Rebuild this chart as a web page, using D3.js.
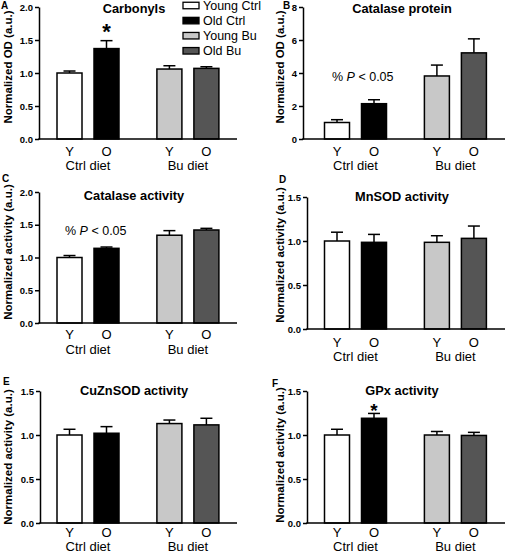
<!DOCTYPE html>
<html><head><meta charset="utf-8">
<script src="https://cdn.jsdelivr.net/npm/d3@7"></script>
<style>body{margin:0;background:#fff} svg{display:block}</style>
</head><body><svg id="c" width="506" height="554"></svg>
<script>
// ---------- data ----------
const groups = ["Young Ctrl", "Old Ctrl", "Young Bu", "Old Bu"];
const ageLabels = ["Y", "O", "Y", "O"];
const dietLabels = ["Ctrl diet", "Bu diet"];
const barColors = ["#ffffff", "#000000", "#c8c8c8", "#555555"];

const carbonylsMean = [1.00, 1.37, 1.06, 1.07];
const carbonylsErr  = [0.03, 0.12, 0.05, 0.025];
const catProtMean   = [1.00, 2.14, 3.82, 5.22];
const catProtErr    = [0.17, 0.24, 0.66, 0.85];
const catActMean    = [1.00, 1.14, 1.34, 1.42];
const catActErr     = [0.03, 0.02, 0.07, 0.025];
const mnsodMean     = [1.00, 0.985, 0.985, 1.03];
const mnsodErr      = [0.10, 0.09, 0.075, 0.14];
const cuznsodMean   = [1.00, 1.02, 1.13, 1.115];
const cuznsodErr    = [0.065, 0.075, 0.04, 0.075];
const gpxMean       = [1.00, 1.19, 1.00, 0.995];
const gpxErr        = [0.065, 0.055, 0.04, 0.035];

const ticks2  = [0, 0.5, 1.0, 1.5, 2.0];
const ticks8  = [0, 2, 4, 6, 8];
const ticks15 = [0, 0.5, 1.0, 1.5];

const panelLetters = ["A", "B", "C", "D", "E", "F"];
const panelTitles = ["Carbonyls", "Catalase protein", "Catalase activity", "MnSOD activity", "CuZnSOD activity", "GPx activity"];
const yLabelOD = "Normalized OD (a.u.)";
const yLabelAct = "Normalized activity (a.u.)";

// ---------- panel definitions ----------
const panels = [
  {mean: carbonylsMean, err: carbonylsErr, ticks: ticks2, ylabel: yLabelOD, star: 1},
  {mean: catProtMean, err: catProtErr, ticks: ticks8, ylabel: yLabelOD, sig: true},
  {mean: catActMean, err: catActErr, ticks: ticks2, ylabel: yLabelAct, sig: true},
  {mean: mnsodMean, err: mnsodErr, ticks: ticks15, ylabel: yLabelAct},
  {mean: cuznsodMean, err: cuznsodErr, ticks: ticks15, ylabel: yLabelAct},
  {mean: gpxMean, err: gpxErr, ticks: ticks15, ylabel: yLabelAct, star: 1}
];

// ---------- layout (positions only) ----------
const cols = [
  {start: 69.5, step: 37, axisEnd: 237, titleX: 134, ylabX: 12},
  {start: 337, step: 37, axisEnd: 505, titleX: 402, ylabX: 284}
];
const layout = [
  {col: 0, axisX: 39,  yTop: 7,   yBot: 139, lx: 1,   ly: 9,   titleY: 13,  labelY: 67,  ageDy: 17, dietDy: 31, starY: 39, starSize: 22},
  {col: 1, axisX: 303, yTop: 7,   yBot: 139, lx: 283, ly: 9,   titleY: 13,  labelY: 67,  ageDy: 17, dietDy: 31, sigX: 332, sigY: 81},
  {col: 0, axisX: 39,  yTop: 192, yBot: 323, lx: 2,   ly: 182, titleY: 200, labelY: 252, ageDy: 16, dietDy: 31, sigX: 65,  sigY: 235},
  {col: 1, axisX: 307, yTop: 197, yBot: 329, lx: 279, ly: 183, titleY: 201, labelY: 255, ageDy: 18, dietDy: 32},
  {col: 0, axisX: 40,  yTop: 391, yBot: 523, lx: 3,   ly: 385, titleY: 395, labelY: 457, ageDy: 13.5, dietDy: 28},
  {col: 1, axisX: 307, yTop: 391, yBot: 523, lx: 272, ly: 387, titleY: 395, labelY: 455, ageDy: 13.5, dietDy: 28, starY: 417, starSize: 19}
];
const slots = [0, 1, 2.7, 3.7];
const barW = 25, capW = 12;
const FONT = "'Liberation Sans', Arial, Helvetica, sans-serif";

const svg = d3.select("#c").style("font-family", FONT);

panels.forEach((p, i) => {
  const L = layout[i], C = cols[L.col];
  const g = svg.append("g");
  const yMax = p.ticks[p.ticks.length - 1];
  const y = d3.scaleLinear().domain([0, yMax]).range([L.yBot, L.yTop]);
  const x = d3.scaleLinear().domain([0, 1]).range([C.start, C.start + C.step]);

  const data = p.mean.map((m, k) => ({m, e: p.err[k], k}));
  // error bars (upper only)
  g.selectAll("line.eb").data(data).join("line")
    .attr("x1", d => x(slots[d.k])).attr("x2", d => x(slots[d.k]))
    .attr("y1", d => y(d.m)).attr("y2", d => y(d.m + d.e))
    .attr("stroke", "#000").attr("stroke-width", 1.5);
  g.selectAll("line.cap").data(data).join("line")
    .attr("x1", d => x(slots[d.k]) - capW / 2).attr("x2", d => x(slots[d.k]) + capW / 2)
    .attr("y1", d => y(d.m + d.e)).attr("y2", d => y(d.m + d.e))
    .attr("stroke", "#000").attr("stroke-width", 1.5);
  // bars
  g.selectAll("rect.bar").data(data).join("rect")
    .attr("x", d => x(slots[d.k]) - barW / 2)
    .attr("width", barW)
    .attr("y", d => y(d.m))
    .attr("height", d => y(0) - y(d.m))
    .attr("fill", d => barColors[d.k])
    .attr("stroke", "#000").attr("stroke-width", 1.5);

  // y axis
  const fmt = yMax === 8 ? d3.format("d") : d3.format(".1f");
  const ax = g.append("g").attr("transform", `translate(${L.axisX},0)`)
    .call(d3.axisLeft(y).tickValues(p.ticks).tickFormat(fmt).tickSize(4).tickSizeOuter(0).tickPadding(2));
  ax.selectAll("path,line").attr("stroke", "#000").attr("stroke-width", 1.5);
  ax.selectAll("text").attr("font-family", FONT).attr("font-size", 9.5).attr("font-weight", "bold").attr("fill", "#000");

  // x axis line
  g.append("line").attr("x1", L.axisX - 0.75).attr("x2", C.axisEnd)
    .attr("y1", y(0)).attr("y2", y(0)).attr("stroke", "#000").attr("stroke-width", 1.5);

  // category labels
  g.selectAll("text.age").data(ageLabels).join("text")
    .attr("x", (d, k) => x(slots[k])).attr("y", y(0) + L.ageDy)
    .attr("text-anchor", "middle").attr("font-size", 13).text(d => d);
  g.selectAll("text.diet").data(dietLabels).join("text")
    .attr("x", (d, k) => (x(slots[2 * k]) + x(slots[2 * k + 1])) / 2).attr("y", y(0) + L.dietDy)
    .attr("text-anchor", "middle").attr("font-size", 13).text(d => d);

  // title
  g.append("text").attr("x", C.titleX).attr("y", L.titleY).attr("text-anchor", "middle")
    .attr("font-size", 12.8).attr("font-weight", "bold").text(panelTitles[i]);

  // panel letter
  g.append("text").attr("x", L.lx).attr("y", L.ly).attr("font-size", 10)
    .attr("font-weight", "bold").text(panelLetters[i]);

  // y label
  g.append("text").attr("transform", `translate(${C.ylabX},${L.labelY}) rotate(-90)`)
    .attr("text-anchor", "middle").attr("font-size", 11.5).attr("font-weight", "bold").text(p.ylabel);

  // significance annotations
  if (p.star !== undefined) {
    g.append("text").attr("x", x(slots[p.star])).attr("y", L.starY).attr("text-anchor", "middle")
      .attr("font-size", L.starSize).attr("font-weight", "bold").text("*");
  }
  if (p.sig) {
    const t = g.append("text").attr("x", L.sigX).attr("y", L.sigY).attr("font-size", 12.5);
    t.append("tspan").text("% ");
    t.append("tspan").attr("font-style", "italic").text("P");
    t.append("tspan").text(" < 0.05");
  }
});

// legend
const leg = svg.append("g").attr("transform", "translate(183,5.5)");
groups.forEach((name, k) => {
  leg.append("rect").attr("x", 0).attr("y", k * 15.1 - 3.25).attr("width", 16).attr("height", 6.5)
    .attr("fill", barColors[k]).attr("stroke", "#000").attr("stroke-width", 1.3);
  leg.append("text").attr("x", 20).attr("y", k * 15.1 + 4.5).attr("font-size", 12.5).text(name);
});
</script></body></html>
